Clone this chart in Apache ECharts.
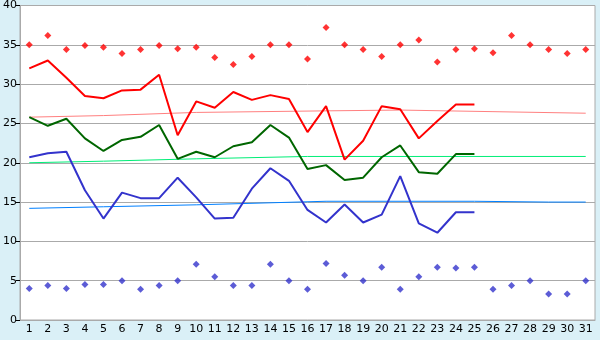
<!DOCTYPE html>
<html><head><meta charset="utf-8">
<script src="https://cdn.jsdelivr.net/npm/echarts@6/dist/echarts.min.js"></script>
<style>html,body{margin:0;padding:0;background:#daf0f7;}#c{width:600px;height:340px;}</style>
</head><body><div id="c"></div>
<script>
var categories = ['1','2','3','4','5','6','7','8','9','10','11','12','13','14','15','16','17','18','19','20','21','22','23','24','25','26','27','28','29','30','31'];
var maxPoints = [35.0,36.2,34.4,34.9,34.7,33.9,34.4,34.9,34.5,34.7,33.4,32.5,33.5,35.0,35.0,33.2,37.2,35.0,34.4,33.5,35.0,35.6,32.8,34.4,34.5,34.0,36.2,35.0,34.4,33.9,34.4];
var minPoints = [4.0,4.4,4.0,4.5,4.5,5.0,3.9,4.4,5.0,7.1,5.5,4.4,4.4,7.1,5.0,3.9,7.2,5.7,5.0,6.7,3.9,5.5,6.7,6.6,6.7,3.9,4.4,5.0,3.3,3.3,5.0];
var maxLine = [32.0,33.0,30.8,28.5,28.2,29.2,29.3,31.2,23.5,27.8,27.0,29.0,28.0,28.6,28.1,23.9,27.2,20.4,22.8,27.2,26.8,23.1,25.3,27.4,27.4];
var avgLine = [25.8,24.7,25.6,23.1,21.5,22.9,23.3,24.8,20.5,21.4,20.7,22.1,22.6,24.8,23.2,19.2,19.7,17.8,18.1,20.7,22.2,18.8,18.6,21.1,21.1];
var minLine = [20.7,21.2,21.4,16.5,12.9,16.2,15.5,15.5,18.1,15.6,12.9,13.0,16.7,19.3,17.7,14.0,12.4,14.7,12.4,13.4,18.3,12.3,11.1,13.7,13.7];
// trend curves: readings at a few days (index = day-1), others null
var maxTrend = {0:25.8,4:26.0,9:26.4,16:26.6,20:26.7,25:26.5,30:26.3};
var avgTrend = {0:20.0,4:20.2,9:20.5,15:20.8,30:20.8};
var minTrend = {0:14.2,4:14.4,9:14.65,16:15.1,24:15.1,28:15.0,30:15.0};
function toArr(o){var a=[];for(var i=0;i<categories.length;i++){a.push(o.hasOwnProperty(i)?o[i]:null);}return a;}

var chart = echarts.init(document.getElementById('c'), null, {renderer:'canvas'});
var lbl = {color:'#000', fontFamily:'DejaVu Sans', fontSize:11};
chart.setOption({
  animation:false,
  backgroundColor:'#daf0f7',
  grid:{left:20,right:5,top:5,bottom:20,show:true,backgroundColor:'#fff',borderColor:'#aaa',borderWidth:1},
  xAxis:{type:'category',data:categories,boundaryGap:true,
    axisLine:{lineStyle:{color:'#aaa'}},
    axisTick:{alignWithLabel:true,length:5,lineStyle:{color:'#000'}},
    axisLabel:Object.assign({margin:4,interval:0},lbl),splitLine:{show:false}},
  yAxis:{type:'value',min:0,max:40,interval:5,
    axisLine:{show:true,lineStyle:{color:'#aaa'}},
    axisTick:{show:true,length:4,lineStyle:{color:'#000'}},
    axisLabel:Object.assign({margin:3},lbl),
    splitLine:{lineStyle:{color:'#aaa',width:1}}},
  series:[
    {type:'line',data:toArr(maxTrend),connectNulls:true,symbol:'none',lineStyle:{color:'#ff8080',width:1},z:1},
    {type:'line',data:toArr(avgTrend),connectNulls:true,symbol:'none',lineStyle:{color:'#00ee77',width:1},z:1},
    {type:'line',data:toArr(minTrend),connectNulls:true,symbol:'none',lineStyle:{color:'#0080ff',width:1},z:1},
    {type:'line',data:maxLine,symbol:'none',lineStyle:{color:'#ff0000',width:2},z:3},
    {type:'line',data:avgLine,symbol:'none',lineStyle:{color:'#006600',width:2},z:3},
    {type:'line',data:minLine,symbol:'none',lineStyle:{color:'#3333cc',width:2},z:3},
    {type:'scatter',data:maxPoints,symbol:'diamond',symbolSize:7,itemStyle:{color:'#ff0000'},z:4},
    {type:'scatter',data:minPoints,symbol:'diamond',symbolSize:7,itemStyle:{color:'#3333cc'},z:4}
  ]
});
</script></body></html>
